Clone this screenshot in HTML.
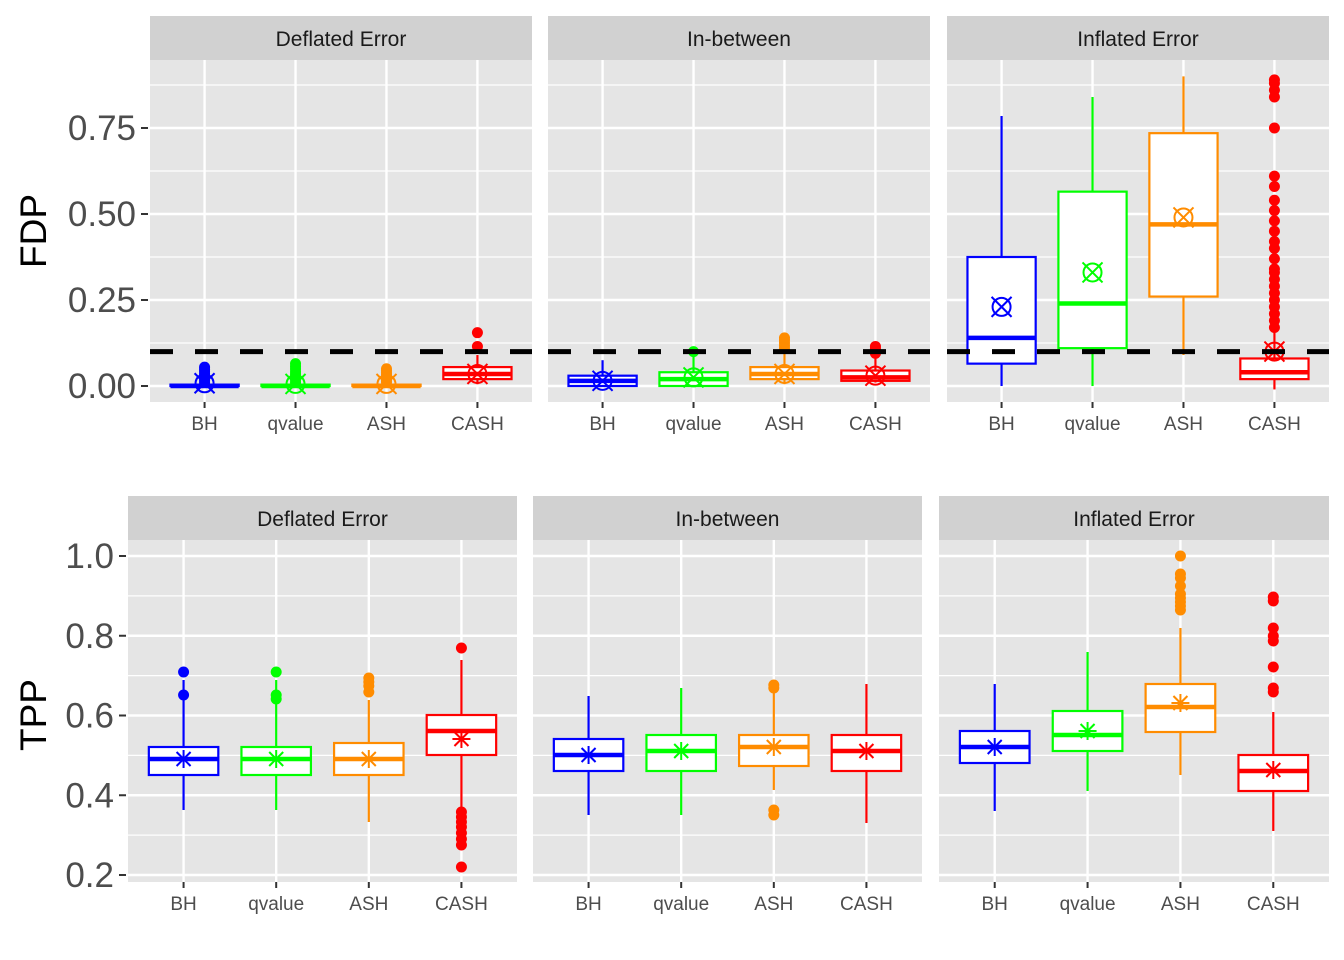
<!DOCTYPE html><html><head><meta charset="utf-8"><style>body{margin:0;background:#fff}svg{display:block}text{font-family:"Liberation Sans",Arial,sans-serif}</style></head><body>
<svg id="s" width="1344" height="960" xmlns="http://www.w3.org/2000/svg"></svg>
<script>
(function(){
const S=document.getElementById('s');let h='';
const cols=['#0000ff','#00ff00','#ff8c00','#ff0000'],labs=['BH','qvalue','ASH','CASH'],strips=['Deflated Error','In-between','Inflated Error'];
function panel(x0,x1,yT,yB,strip,grid,minor){
 h+=`<rect x="${x0}" y="${yT-44}" width="${x1-x0}" height="44" fill="#d1d1d1"/>`;
 h+=`<text x="${(x0+x1)/2}" y="${yT-14}" font-size="21" fill="#1a1a1a" text-anchor="middle">${strip}</text>`;
 h+=`<rect x="${x0}" y="${yT}" width="${x1-x0}" height="${yB-yT}" fill="#e5e5e5"/>`;
 minor.forEach(y=>h+=`<line x1="${x0}" x2="${x1}" y1="${y}" y2="${y}" stroke="#fff" stroke-width="1.2"/>`);
 grid.forEach(y=>h+=`<line x1="${x0}" x2="${x1}" y1="${y}" y2="${y}" stroke="#fff" stroke-width="2.4"/>`);
 const w=x1-x0,xs=[0,1,2,3].map(i=>x0+(i+0.6)/4.2*w);
 xs.forEach((x,i)=>{h+=`<line x1="${x}" x2="${x}" y1="${yT}" y2="${yB}" stroke="#fff" stroke-width="2.4"/><line x1="${x}" x2="${x}" y1="${yB}" y2="${yB+6}" stroke="#333" stroke-width="2"/><text x="${x}" y="${yB+28}" font-size="19" fill="#4d4d4d" text-anchor="middle">${labs[i]}</text>`});
 return {xs,bw:0.75/4.2*w};
}
function box(x,bw,c,wl,q1,md,q3,wh,outs,mean,mk){
 h+=`<line x1="${x}" x2="${x}" y1="${wl}" y2="${wh}" stroke="${c}" stroke-width="2.2"/>`;
 h+=`<rect x="${x-bw/2}" y="${q3}" width="${bw}" height="${Math.max(q1-q3,0.1)}" fill="#fff" stroke="${c}" stroke-width="2.2"/>`;
 h+=`<line x1="${x-bw/2}" x2="${x+bw/2}" y1="${md}" y2="${md}" stroke="${c}" stroke-width="4.5"/>`;
 outs.forEach(y=>h+=`<circle cx="${x}" cy="${y}" r="5.5" fill="${c}"/>`);
 if(mk=='o'){h+=`<circle cx="${x}" cy="${mean}" r="9" fill="none" stroke="${c}" stroke-width="2"/><path d="M${x-10} ${mean-10}L${x+10} ${mean+10}M${x-10} ${mean+10}L${x+10} ${mean-10}" stroke="${c}" stroke-width="2"/>`}
 else{h+=`<path d="M${x-9} ${mean}L${x+9} ${mean}M${x} ${mean-9}L${x} ${mean+9}M${x-7} ${mean-7}L${x+7} ${mean+7}M${x-7} ${mean+7}L${x+7} ${mean-7}" stroke="${c}" stroke-width="2"/>`}
}
const fy=v=>386-v*344;
const tg=[0,.25,.5,.75].map(fy),tm=[.125,.375,.625,.875].map(fy);
const rng=(a,b,n)=>Array.from({length:n},(_,i)=>a+(b-a)*i/(n-1));
const topData=[
 [[0,0,0,0.004,0.004,rng(0.01,0.055,8),0.008],[0,0,0,0.004,0.004,rng(0.01,0.065,8),0.006],[0,0,0,0.004,0.004,rng(0.01,0.05,8),0.006],[0.005,0.02,0.035,0.055,0.09,[0.115,0.155],0.035]],
 [[0,0,0.015,0.03,0.075,[],0.015],[0,0,0.02,0.04,0.1,[0.1],0.025],[0.005,0.02,0.035,0.055,0.1,rng(0.11,0.14,5),0.035],[0.01,0.015,0.025,0.045,0.09,rng(0.095,0.115,4),0.03]],
 [[0,0.065,0.14,0.375,0.785,[],0.23],[0,0.11,0.24,0.565,0.84,[],0.33],[0.09,0.26,0.47,0.735,0.9,[],0.49],[-0.01,0.02,0.04,0.08,0.17,[0.17,0.19,0.21,0.23,0.25,0.27,0.29,0.31,0.33,0.34,0.37,0.4,0.42,0.45,0.48,0.51,0.54,0.58,0.61,0.75,0.84,0.86,0.88,0.89],0.1]]];
const tx=[[150,532],[548,930],[947,1329]];
tx.forEach((p,k)=>{const P=panel(p[0],p[1],60,402,strips[k],tg,tm);
 topData[k].forEach((d,i)=>box(P.xs[i],P.bw,cols[i],fy(d[0]),fy(d[1]),fy(d[2]),fy(d[3]),fy(d[4]),d[5].map(fy),fy(d[6]),'o'));
 h+=`<line x1="${p[0]}" x2="${p[1]}" y1="${fy(0.1)}" y2="${fy(0.1)}" stroke="#000" stroke-width="5" stroke-dasharray="23 22"/>`;
});
[[0,'0.00'],[.25,'0.25'],[.5,'0.50'],[.75,'0.75']].forEach(([v,t])=>{h+=`<text x="136" y="${fy(v)+12}" font-size="35" fill="#4d4d4d" text-anchor="end">${t}</text><line x1="141" x2="148" y1="${fy(v)}" y2="${fy(v)}" stroke="#333" stroke-width="2"/>`});
h+=`<text transform="translate(46,231) rotate(-90)" font-size="37" fill="#000" text-anchor="middle">FDP</text>`;
const ty=v=>875-(v-0.2)*398.75;
const bg=[.2,.4,.6,.8,1].map(ty),bm=[.3,.5,.7,.9].map(ty);
const botData=[
 [[810,775,759,747,680,[672,695],759],[810,775,759,747,680,[672,695,699],759],[822,775,759,743,700,[678,682,686,692],759],[811,755,731,715,660,[648,812,817,822,827,833,839,845,867],739]],
 [[815,771,755,739,696,[],755],[815,771,751,735,688,[],751],[790,766,747,735,680,[685,688,810,815],747],[823,771,751,735,684,[],751]],
 [[811,763,747,731,684,[],747],[791,751,735,711,652,[],731],[775,732,707,684,628,[556,574,578,586,594,598,602,606,610],703],[831,791,771,755,712,[597,601,628,636,641,667,688,692],770]]];
const bx=[[128,517],[533,922],[939,1329]];
bx.forEach((p,k)=>{const P=panel(p[0],p[1],540,882,strips[k],bg,bm);
 botData[k].forEach((d,i)=>box(P.xs[i],P.bw,cols[i],d[0],d[1],d[2],d[3],d[4],d[5],d[6],'*'));});
[[.2,'0.2'],[.4,'0.4'],[.6,'0.6'],[.8,'0.8'],[1,'1.0']].forEach(([v,t])=>{h+=`<text x="114" y="${ty(v)+12}" font-size="35" fill="#4d4d4d" text-anchor="end">${t}</text><line x1="119" x2="126" y1="${ty(v)}" y2="${ty(v)}" stroke="#333" stroke-width="2"/>`});
h+=`<text transform="translate(46,715) rotate(-90)" font-size="37" fill="#000" text-anchor="middle">TPP</text>`;
S.innerHTML=h;
})();
</script></body></html>
